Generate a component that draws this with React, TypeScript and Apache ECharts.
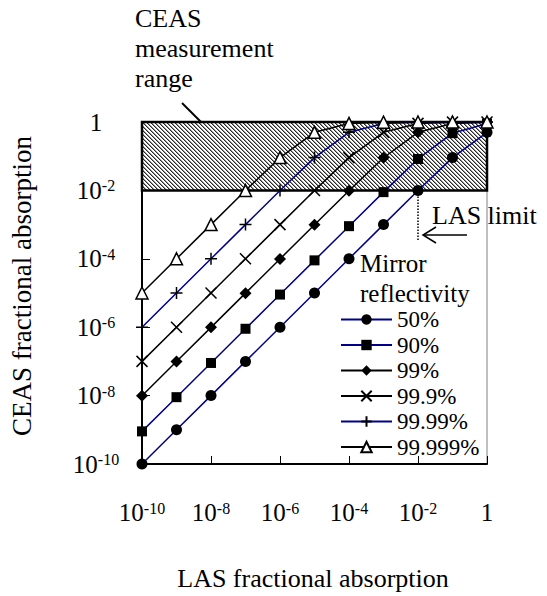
import React, { useEffect, useRef } from "react";
import * as echarts from "echarts";

// LAS fractional absorption (x)
const lasAbsorption = [1e-10, 1e-9, 1e-8, 1e-7, 1e-6, 1e-5, 1e-4, 1e-3, 1e-2, 1e-1, 1];

// CEAS fractional absorption for each mirror reflectivity
const r50 = [1e-10, 1e-9, 1e-8, 1e-7, 1e-6, 1e-5, 1e-4, 1e-3, 9.9e-3, 0.091, 0.5];
const r90 = [9e-10, 9e-9, 9e-8, 9e-7, 9e-6, 9e-5, 9e-4, 8.9e-3, 0.083, 0.47, 0.9];
const r99 = [9.9e-9, 9.9e-8, 9.9e-7, 9.9e-6, 9.9e-5, 9.9e-4, 9.8e-3, 0.09, 0.5, 0.91, 0.99];
const r999 = [1e-7, 1e-6, 1e-5, 1e-4, 1e-3, 9.9e-3, 0.091, 0.5, 0.91, 0.99, 0.999];
const r9999 = [1e-6, 1e-5, 1e-4, 1e-3, 9.9e-3, 0.091, 0.5, 0.91, 0.99, 0.999, 1];
const r99999 = [1e-5, 1e-4, 1e-3, 9.9e-3, 0.091, 0.5, 0.91, 0.99, 0.999, 1, 1];

const seriesNames = ["50%", "90%", "99%", "99.9%", "99.99%", "99.999%"];
const seriesValues = [r50, r90, r99, r999, r9999, r99999];

// CEAS measurement range (y) and LAS limit (x)
const ceasRange = [1e-2, 1];
const lasLimit = 1e-2;
const lasLimitLineBottom = 3.5e-4;

const FONT = "Liberation Serif";
const NAVY = "#00008b";

function hatchPattern(): string {
  const c = document.createElement("canvas");
  c.width = 8;
  c.height = 8;
  const ctx = c.getContext("2d")!;
  const img = ctx.createImageData(8, 8);
  for (let y = 0; y < 8; y++) {
    for (let x = 0; x < 8; x++) {
      const d = (((x - y) % 4) + 4) % 4;
      const v = d === 0 ? 40 : d === 1 ? 150 : 255;
      const i = (y * 8 + x) * 4;
      img.data[i] = v;
      img.data[i + 1] = v;
      img.data[i + 2] = v;
      img.data[i + 3] = 255;
    }
  }
  ctx.putImageData(img, 0, 0);
  return c.toDataURL();
}

const styles = [
  { symbol: "circle", size: 11, line: NAVY, fill: "#000", border: "#000", bw: 0 },
  { symbol: "rect", size: 10, line: NAVY, fill: "#000", border: "#000", bw: 0 },
  { symbol: "diamond", size: 12, line: "#000", fill: "#000", border: "#000", bw: 0 },
  { symbol: "path://M0,0L10,10M10,0L0,10", size: 11, line: "#000", fill: "#000", border: "#000", bw: 1.5 },
  { symbol: "path://M5,0L5,10M0,5L10,5", size: 12, line: NAVY, fill: "#000", border: "#000", bw: 1.5 },
  { symbol: "triangle", size: 12, line: "#000", fill: "#fff", border: "#000", bw: 1.5 },
];

const txt = (text: string, x: number, y: number, size: number, extra: any = {}) => ({
  type: "text",
  x,
  y,
  ...extra,
  style: {
    text,
    fontFamily: FONT,
    fontSize: size,
    fill: "#000",
    verticalAlign: "middle",
    align: extra.align || "left",
  },
});

export default function App() {
  const ref = useRef<HTMLDivElement>(null);
  useEffect(() => {
    if (!ref.current) return;
    const chart = echarts.init(ref.current, null, { renderer: "svg" });
    const pattern = hatchPattern();

    const labelFormatter = (v: number) => {
      const e = Math.round(Math.log10(v));
      return e === 0 ? "{a|1}" : `{a|10}{s|${e}}`;
    };
    const rich = {
      a: { fontSize: 25, fontFamily: FONT, color: "#000" },
      s: { fontSize: 16, fontFamily: FONT, color: "#000", verticalAlign: "top" },
    };

    const dataSeries = seriesNames.map((name, k) => ({
      name,
      type: "line",
      z: 3,
      clip: false,
      data: lasAbsorption.map((x, i) => [x, seriesValues[k][i]]),
      symbol: styles[k].symbol,
      symbolSize: styles[k].size,
      lineStyle: { color: styles[k].line, width: 1.5 },
      itemStyle: {
        color: styles[k].fill,
        borderColor: styles[k].border,
        borderWidth: styles[k].bw,
      },
      emphasis: { disabled: true },
    }));

    const option: any = {
      animation: false,
      grid: {
        left: 142,
        top: 122,
        width: 345,
        height: 342,
        show: true,
        borderColor: "#808080",
        borderWidth: 1,
        backgroundColor: "transparent",
      },
      xAxis: {
        type: "log",
        logBase: 10,
        min: 1e-10,
        max: 1,
        interval: 2,
        axisLine: { lineStyle: { color: "#000", width: 2 } },
        axisTick: { inside: true, length: 8, lineStyle: { color: "#000", width: 1 } },
        minorTick: { show: false },
        splitLine: { show: false },
        axisLabel: { formatter: labelFormatter, rich, margin: 36 },
      },
      yAxis: {
        type: "log",
        logBase: 10,
        min: 1e-10,
        max: 1,
        interval: 2,
        axisLine: { lineStyle: { color: "#000", width: 2 } },
        axisTick: { inside: true, length: 8, lineStyle: { color: "#000", width: 1 } },
        minorTick: { show: false },
        splitLine: { show: false },
        axisLabel: { formatter: labelFormatter, rich, margin: 46, align: "center" },
      },
      legend: {
        data: seriesNames,
        orient: "vertical",
        left: 335,
        top: 303,
        itemWidth: 51,
        itemHeight: 13,
        itemGap: 2.5,
        selectedMode: false,
        textStyle: { fontSize: 23, fontFamily: FONT, color: "#000", lineHeight: 22 },
      },
      series: [
        {
          name: "range",
          type: "line",
          z: 1,
          clip: false,
          data: [[lasAbsorption[0], ceasRange[0]]],
          symbol: "none",
          lineStyle: { width: 0 },
          silent: true,
          markArea: {
            silent: true,
            itemStyle: {
              color: { image: pattern, repeat: "repeat", imageWidth: 8, imageHeight: 8 },
              borderColor: "#000",
              borderWidth: 2.5,
            },
            label: { show: false },
            data: [
              [
                { coord: [lasAbsorption[0], ceasRange[0]] },
                { coord: [lasAbsorption[lasAbsorption.length - 1], ceasRange[1]] },
              ],
            ],
          },
          markLine: {
            silent: true,
            symbol: "none",
            label: { show: false },
            lineStyle: { color: "#000", type: "dotted", width: 1.5 },
            data: [[{ coord: [lasLimit, ceasRange[0]] }, { coord: [lasLimit, lasLimitLineBottom] }]],
          },
        },
        ...dataSeries,
      ],
      graphic: [
        txt("CEAS", 135, 18, 26),
        txt("measurement", 135, 48, 26),
        txt("range", 135, 78, 26),
        { type: "line", shape: { x1: 182, y1: 103, x2: 220, y2: 141 }, style: { stroke: "#000", lineWidth: 2 } },
        { type: "polygon", shape: { points: [[230, 151], [212, 143], [222, 133]] }, style: { fill: "#000" } },
        txt("LAS limit", 432, 215, 26),
        { type: "line", shape: { x1: 423, y1: 235, x2: 467, y2: 235 }, style: { stroke: "#000", lineWidth: 1.5 } },
        { type: "polyline", shape: { points: [[436, 227], [423, 235], [436, 243]] }, style: { stroke: "#000", lineWidth: 1.5, fill: "none" } },
        txt("Mirror", 360, 263, 25),
        txt("reflectivity", 360, 293, 25),
        txt("LAS fractional absorption", 313, 578, 26, { align: "center" }),
        txt("CEAS fractional absorption", 22, 286, 27, { align: "center", rotation: Math.PI / 2 }),
      ],
    };
    chart.setOption(option);
    return () => chart.dispose();
  }, []);
  return (
    <div
      ref={ref}
      style={{ position: "absolute", left: 0, top: 0, width: 547, height: 596, background: "#fff" }}
    />
  );
}
